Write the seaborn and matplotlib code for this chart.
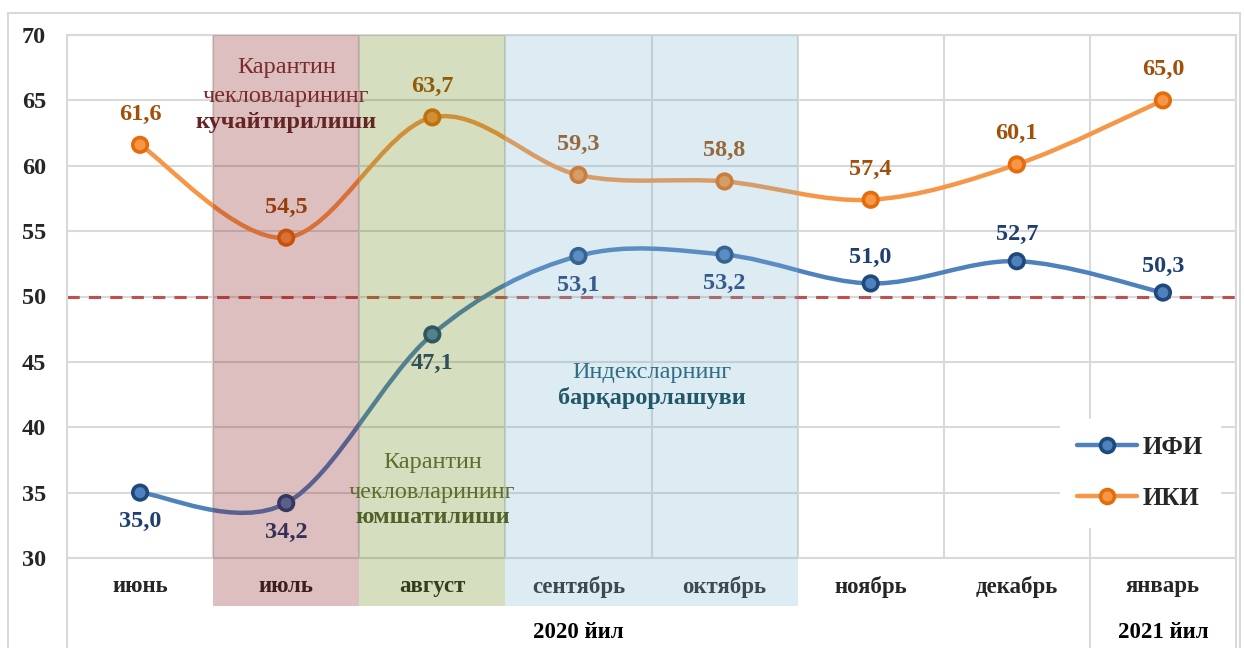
import numpy as np
import pandas as pd
import matplotlib
matplotlib.use("Agg")
import matplotlib.pyplot as plt
import matplotlib.transforms as mtransforms
from matplotlib.path import Path
from matplotlib.patches import PathPatch, Rectangle
from matplotlib.lines import Line2D
import seaborn as sns

# data
months = ["июнь", "июль", "август", "сентябрь", "октябрь", "ноябрь", "декабрь", "январь"]
ifi = [35.0, 34.2, 47.1, 53.1, 53.2, 51.0, 52.7, 50.3]
iki = [61.6, 54.5, 63.7, 59.3, 58.8, 57.4, 60.1, 65.0]
ifi_label_below = [True, True, True, True, True, False, False, False]
year_labels = ["2020 йил", "2021 йил"]
y_ticks = [30, 35, 40, 45, 50, 55, 60, 65, 70]

df = pd.DataFrame({
    "pos": list(range(len(months))) * 2,
    "value": ifi + iki,
    "series": ["ИФИ"] * len(months) + ["ИКИ"] * len(months),
})

sns.set_theme(style="white")
plt.rcParams["font.family"] = ["Liberation Serif", "DejaVu Serif"]

BLUE, BLUE_DARK = "#4F81BD", "#1F487C"
ORANGE, ORANGE_DARK = "#F79646", "#E46C0A"
GRID = "#D9D9D9"

fig = plt.figure(figsize=(12.44, 6.48), dpi=100)
ax = fig.add_axes([67 / 1244, 1 - 558 / 648, (1236 - 67) / 1244, (558 - 35) / 648])

# outer frame
fig.patches.append(Rectangle((8 / 1244, -0.01), 1232 / 1244, 1 - 13 / 648 + 0.01,
                             transform=fig.transFigure, fill=False,
                             edgecolor=GRID, lw=1.5))

ax.set_xlim(-0.5, 7.5)
ax.set_ylim(30, 70)
ax.set_axisbelow(True)
ax.set_yticks(y_ticks)
ax.set_xticks(np.arange(-0.5, 8, 1), minor=True)
ax.grid(True, which="major", axis="y", color=GRID, lw=1.5)
ax.grid(True, which="minor", axis="x", color=GRID, lw=1.5)
for s in ax.spines.values():
    s.set_color(GRID)
    s.set_linewidth(1.5)
ax.tick_params(which="both", length=0)
ax.tick_params(axis="y", pad=15, labelsize=17.5)
ax.tick_params(axis="x", pad=13, labelsize=16.5)
ax.set_xticks(range(len(months)))
ax.set_xticklabels(months, fontweight="bold")
for t in ax.get_yticklabels():
    t.set_fontweight("bold")

# 50 threshold
ax.axhline(50, color="#C0504D", lw=2.2, ls=(0, (4, 3)), zorder=2)


def smooth_path(xs, ys):
    # Excel-style smoothed line as cubic Bezier segments
    pts = np.column_stack([xs, ys]).astype(float)
    n = len(pts)
    verts = [pts[0]]
    codes = [Path.MOVETO]
    for i in range(n - 1):
        p0 = pts[i - 1] if i > 0 else pts[i]
        p1, p2 = pts[i], pts[i + 1]
        p3 = pts[i + 2] if i + 2 < n else pts[i + 1]
        verts += [p1 + (p2 - p0) / 6, p2 - (p3 - p1) / 6, p2]
        codes += [Path.CURVE4] * 3
    return Path(verts, codes)


x = np.arange(len(months))
for vals, c in [(ifi, BLUE), (iki, ORANGE)]:
    ax.add_patch(PathPatch(smooth_path(x, vals), facecolor="none", edgecolor=c,
                           lw=3.2, capstyle="round", zorder=3))

sns.scatterplot(data=df, x="pos", y="value", hue="series",
                palette={"ИФИ": BLUE, "ИКИ": ORANGE}, s=110, linewidth=2.6,
                edgecolor=[BLUE_DARK] * 8 + [ORANGE_DARK] * 8,
                legend=False, zorder=4, ax=ax)
ax.set_xlabel("")
ax.set_ylabel("")

# data labels
for i, v in enumerate(ifi):
    dy = -21 if ifi_label_below[i] else 19
    ax.annotate(f"{v:.1f}".replace(".", ","), (i, v), xytext=(0, dy),
                textcoords="offset points", ha="center", va="center",
                fontsize=17.5, fontweight="bold", color="#1F3F73", zorder=4)
for i, v in enumerate(iki):
    ax.annotate(f"{v:.1f}".replace(".", ","), (i, v), xytext=(0, 22),
                textcoords="offset points", ha="center", va="center",
                fontsize=17.5, fontweight="bold", color="#A0500A", zorder=4)

# shaded periods (drawn over the lines, semi-transparent)
bottom = 30 - (606 - 558) / ((558 - 35) / 40)
for x0, w, c in [(0.5, 1, "#7C090D"), (1.5, 1, "#61800D"), (2.5, 2, "#7CB2D1")]:
    ax.add_patch(Rectangle((x0, bottom), w, 70 - bottom, facecolor=c, alpha=0.26,
                           lw=0, zorder=5, clip_on=False))

# annotations
fs = 17.5
ax.text(1, 67.5, "Карантин", ha="center", va="center", fontsize=fs, color="#7A2C2C", zorder=6)
ax.text(1, 65.3, "чекловларининг", ha="center", va="center", fontsize=fs, color="#7A2C2C", zorder=6)
ax.text(1, 63.3, "кучайтирилиши", ha="center", va="center", fontsize=fs,
        fontweight="bold", color="#632523", zorder=6)
ax.text(2, 37.3, "Карантин", ha="center", va="center", fontsize=fs, color="#5E6E2E", zorder=6)
ax.text(2, 35.0, "чекловларининг", ha="center", va="center", fontsize=fs, color="#5E6E2E", zorder=6)
ax.text(2, 33.1, "юмшатилиши", ha="center", va="center", fontsize=fs,
        fontweight="bold", color="#4F6228", zorder=6)
ax.text(3.5, 44.2, "Индексларнинг", ha="center", va="center", fontsize=fs, color="#2F6E84", zorder=6)
ax.text(3.5, 42.2, "барқарорлашуви", ha="center", va="center", fontsize=fs,
        fontweight="bold", color="#215868", zorder=6)

# multi-level category axis
tr = mtransforms.blended_transform_factory(ax.transData, ax.transAxes)
for xv in [-0.5, 6.5, 7.5]:
    ax.plot([xv, xv], [0, -0.2], transform=tr, color=GRID, lw=1.5, clip_on=False)
ax.text(3, -0.1415, year_labels[0], transform=tr, ha="center", va="center",
        fontsize=16.5, fontweight="bold", color="black")
ax.text(7, -0.1415, year_labels[1], transform=tr, ha="center", va="center",
        fontsize=16.5, fontweight="bold", color="black")

# legend
handles = [
    Line2D([], [], color=BLUE, lw=3.2, marker="o", markersize=10,
           markerfacecolor=BLUE, markeredgecolor=BLUE_DARK, markeredgewidth=2.6),
    Line2D([], [], color=ORANGE, lw=3.2, marker="o", markersize=10,
           markerfacecolor=ORANGE, markeredgecolor=ORANGE_DARK, markeredgewidth=2.6),
]
leg = ax.legend(handles, ["ИФИ", "ИКИ"], loc="lower right", bbox_to_anchor=(0.997, 0.035),
                prop={"size": 18, "weight": "bold"}, frameon=True, handlelength=2.4,
                handletextpad=0.2, labelspacing=1.1, borderpad=0.7, fancybox=False)
leg.get_frame().set_edgecolor("white")
leg.get_frame().set_facecolor("white")
leg.get_frame().set_alpha(1)
leg.set_zorder(10)

fig.savefig("out.png", dpi=100)
